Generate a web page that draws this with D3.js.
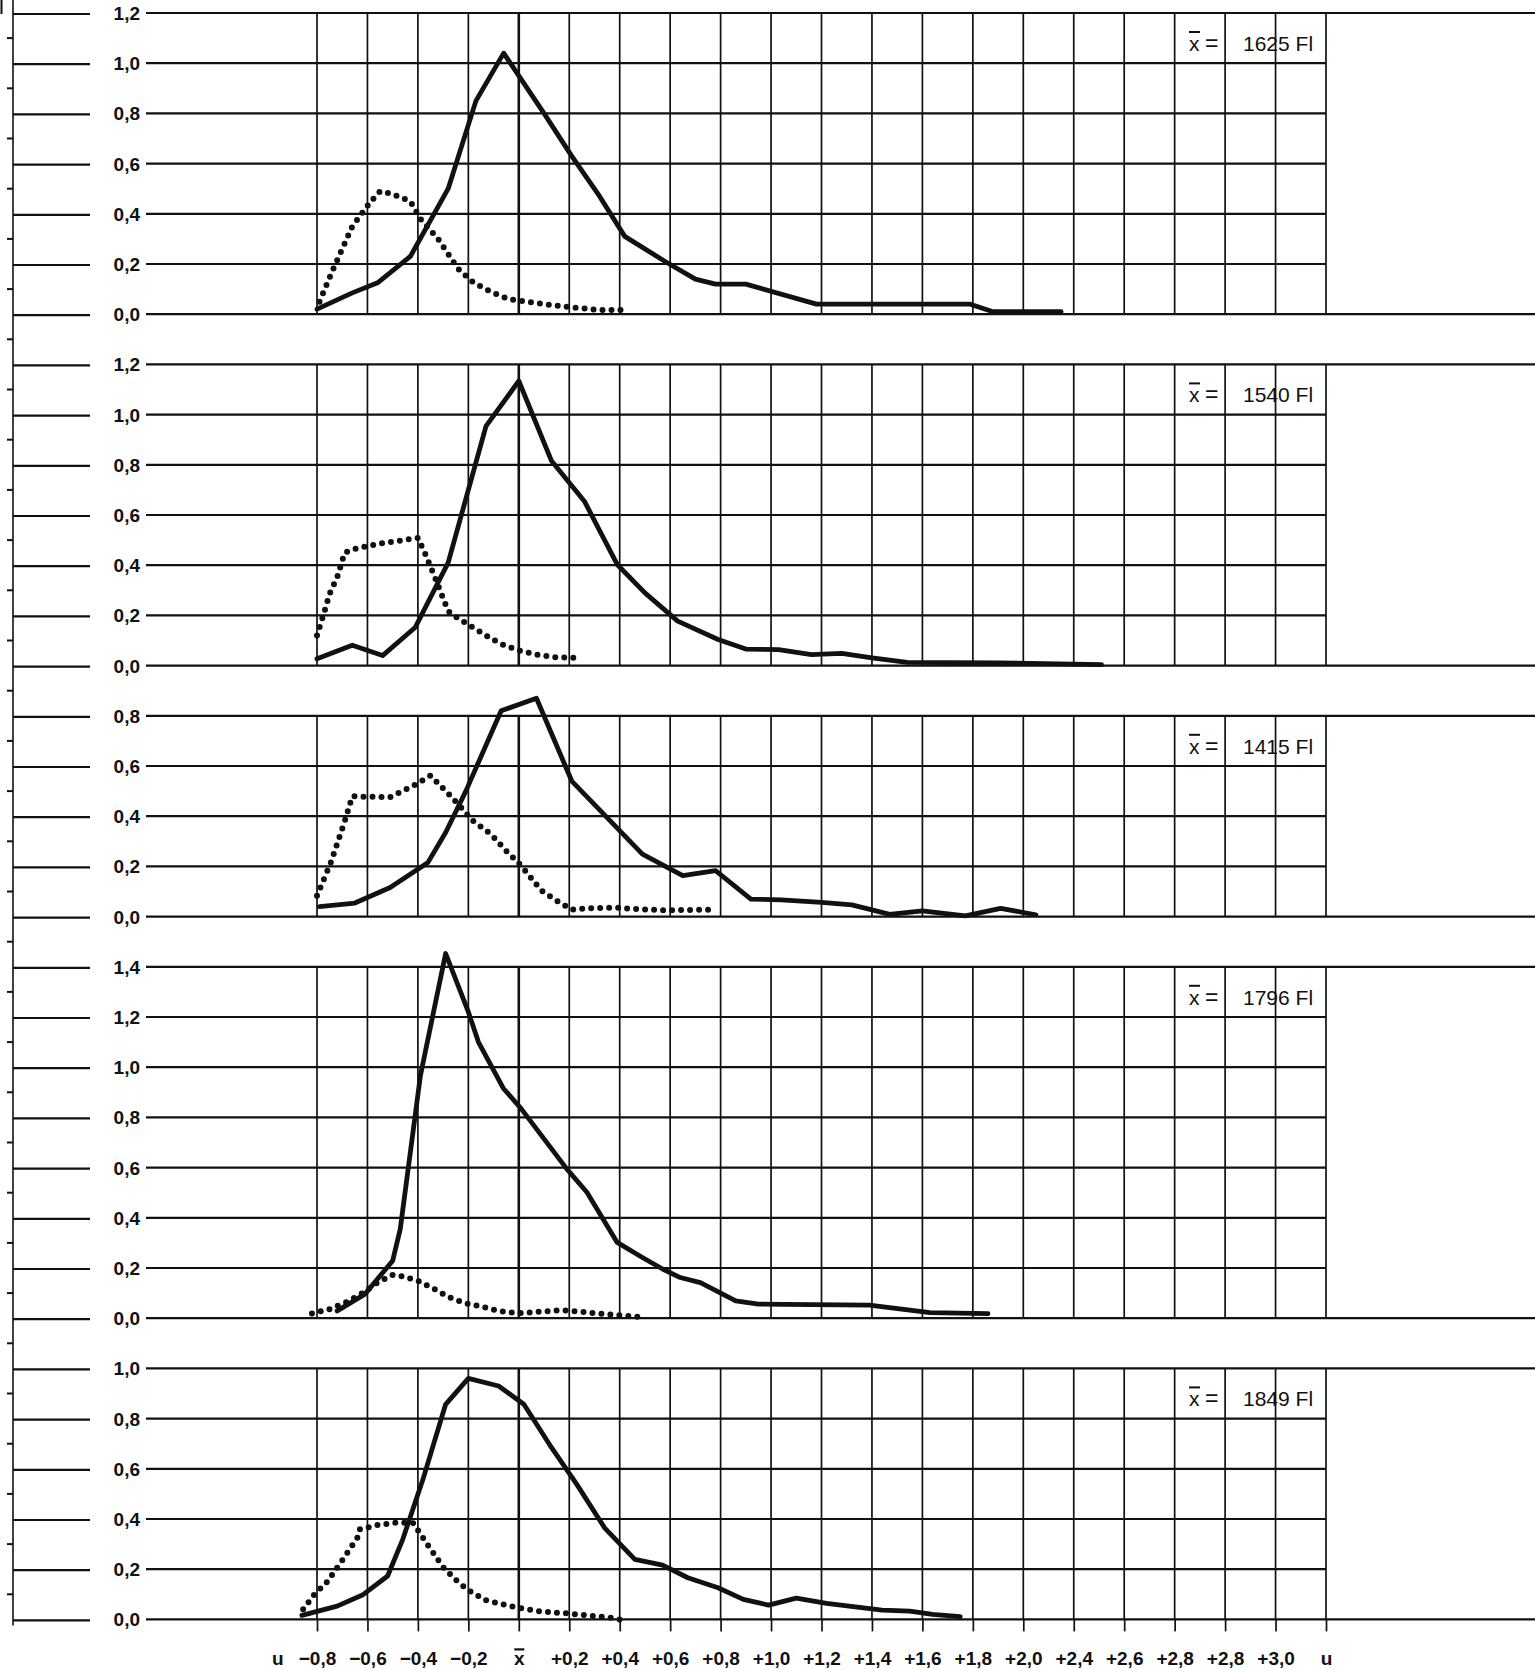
<!DOCTYPE html>
<html><head><meta charset="utf-8">
<script src="https://cdn.jsdelivr.net/npm/d3@7"></script>
<style>body{margin:0;background:#fff}svg{display:block}</style>
</head><body>
<svg id="c" width="1535" height="1670"></svg>
<script>
// ---------- DATA ----------
const panelMeans = ["1625", "1540", "1415", "1796", "1849"];
const meanUnit = "Fl";
const panelMax = [1.2, 1.2, 0.8, 1.4, 1.0];

const p1Solid = [[-0.80,0.02],[-0.66,0.085],[-0.56,0.125],[-0.43,0.23],[-0.28,0.50],[-0.17,0.85],[-0.06,1.04],[0.10,0.80],[0.21,0.63],[0.32,0.47],[0.42,0.31],[0.58,0.21],[0.70,0.14],[0.78,0.12],[0.90,0.12],[1.18,0.04],[1.79,0.04],[1.88,0.01],[2.15,0.01]];
const p1Dotted = [[-0.79,0.05],[-0.74,0.17],[-0.66,0.35],[-0.59,0.445],[-0.55,0.49],[-0.50,0.478],[-0.43,0.45],[-0.39,0.38],[-0.32,0.30],[-0.24,0.18],[-0.18,0.126],[-0.11,0.089],[-0.04,0.06],[0.07,0.044],[0.21,0.027],[0.32,0.017],[0.43,0.016]];

const p2Solid = [[-0.80,0.027],[-0.66,0.081],[-0.54,0.04],[-0.41,0.153],[-0.28,0.41],[-0.13,0.954],[0.00,1.134],[0.13,0.815],[0.26,0.655],[0.39,0.403],[0.50,0.29],[0.63,0.177],[0.79,0.104],[0.90,0.066],[1.03,0.064],[1.16,0.044],[1.28,0.049],[1.40,0.031],[1.54,0.013],[1.90,0.011],[2.31,0.004]];
const p2Dotted = [[-0.80,0.12],[-0.77,0.217],[-0.75,0.286],[-0.72,0.352],[-0.69,0.45],[-0.66,0.462],[-0.62,0.472],[-0.55,0.486],[-0.48,0.496],[-0.40,0.509],[-0.37,0.443],[-0.33,0.345],[-0.28,0.217],[-0.25,0.194],[-0.19,0.157],[-0.13,0.12],[-0.07,0.086],[0.00,0.06],[0.07,0.044],[0.14,0.033],[0.25,0.03]];

const p3Solid = [[-0.79,0.04],[-0.65,0.054],[-0.51,0.116],[-0.36,0.216],[-0.29,0.335],[-0.21,0.50],[-0.07,0.82],[0.07,0.87],[0.21,0.54],[0.49,0.249],[0.65,0.163],[0.78,0.183],[0.92,0.07],[1.04,0.067],[1.20,0.057],[1.32,0.047],[1.40,0.027],[1.47,0.009],[1.60,0.023],[1.77,0.003],[1.91,0.033],[2.05,0.007]];
const p3Dotted = [[-0.80,0.083],[-0.745,0.216],[-0.69,0.38],[-0.66,0.48],[-0.62,0.478],[-0.51,0.476],[-0.47,0.496],[-0.41,0.526],[-0.35,0.562],[-0.27,0.48],[-0.18,0.38],[-0.11,0.328],[-0.05,0.262],[0.01,0.202],[0.09,0.103],[0.16,0.057],[0.21,0.028],[0.27,0.033],[0.38,0.036],[0.46,0.03],[0.59,0.025],[0.77,0.028]];

const p4Solid = [[-0.72,0.029],[-0.61,0.096],[-0.50,0.229],[-0.47,0.355],[-0.39,0.967],[-0.29,1.453],[-0.20,1.22],[-0.16,1.10],[-0.06,0.914],[0.01,0.834],[0.19,0.595],[0.27,0.502],[0.39,0.302],[0.49,0.242],[0.57,0.196],[0.64,0.162],[0.72,0.142],[0.86,0.069],[0.95,0.056],[1.05,0.055],[1.39,0.052],[1.63,0.022],[1.86,0.018]];
const p4Dotted = [[-0.82,0.019],[-0.75,0.036],[-0.685,0.063],[-0.62,0.10],[-0.56,0.142],[-0.50,0.172],[-0.47,0.169],[-0.40,0.149],[-0.335,0.116],[-0.275,0.083],[-0.21,0.059],[-0.14,0.045],[-0.08,0.029],[0.00,0.02],[0.10,0.027],[0.17,0.032],[0.27,0.023],[0.38,0.013],[0.48,0.005]];

const p5Solid = [[-0.86,0.016],[-0.72,0.053],[-0.62,0.097],[-0.52,0.173],[-0.46,0.319],[-0.38,0.558],[-0.29,0.857],[-0.20,0.96],[-0.08,0.93],[0.02,0.857],[0.13,0.684],[0.23,0.538],[0.34,0.365],[0.46,0.239],[0.57,0.216],[0.67,0.166],[0.79,0.126],[0.89,0.08],[0.99,0.057],[1.10,0.085],[1.22,0.064],[1.44,0.037],[1.55,0.033],[1.64,0.02],[1.75,0.011]];
const p5Dotted = [[-0.855,0.04],[-0.81,0.10],[-0.76,0.149],[-0.70,0.235],[-0.64,0.325],[-0.63,0.359],[-0.56,0.376],[-0.49,0.385],[-0.42,0.385],[-0.36,0.295],[-0.30,0.208],[-0.245,0.153],[-0.20,0.116],[-0.13,0.076],[-0.05,0.057],[0.01,0.044],[0.09,0.031],[0.19,0.024],[0.26,0.017],[0.36,0.007],[0.43,-0.006]];

const solidSeries = [p1Solid, p2Solid, p3Solid, p4Solid, p5Solid];
const dottedSeries = [p1Dotted, p2Dotted, p3Dotted, p4Dotted, p5Dotted];

const xTickLabels = ["−0,8","−0,6","−0,4","−0,2","x̄","+0,2","+0,4","+0,6","+0,8","+1,0","+1,2","+1,4","+1,6","+1,8","+2,0","+2,4","+2,6","+2,8","+2,8","+3,0","u"];
const xAxisName = "u";

// ---------- LAYOUT ----------
const svg = d3.select("#c");
const ink = "#111";
const gridL = 317, gridR = 1326, lineStart = 146, pageR = 1535;
const top0 = 13, cell = 50.2;
const x = d3.scaleLinear().domain([-0.8, 3.2]).range([gridL, gridR]);
const xGrid = d3.range(21).map(i => +(-0.8 + 0.2 * i).toFixed(1));
const labelFont = "'Liberation Sans', Arial, Helvetica, sans-serif";
const fmt = v => v.toFixed(1).replace(".", ",");
const axFs = 19;

// left axis line and half ticks
let rowsTotal = 0;
const starts = [];
panelMax.forEach(m => { starts.push(rowsTotal); rowsTotal += Math.round(m / 0.2) + 1; });
rowsTotal -= 1;
svg.append("line").attr("x1", 13).attr("x2", 13).attr("y1", 0).attr("y2", top0 + rowsTotal * cell + 6)
  .attr("stroke", ink).attr("stroke-width", 1.6);
svg.append("line").attr("x1", 1.5).attr("x2", 1.5).attr("y1", 0).attr("y2", 14)
  .attr("stroke", ink).attr("stroke-width", 2);
for (let k = 0; k < rowsTotal; k++) {
  const yy = top0 + (k + 0.5) * cell;
  svg.append("line").attr("x1", 7).attr("x2", 13).attr("y1", yy).attr("y2", yy)
    .attr("stroke", ink).attr("stroke-width", 2);
}

const pathGen = d3.line().curve(d3.curveLinear);

panelMax.forEach((m, i) => {
  const nRows = Math.round(m / 0.2);
  const yTop = top0 + starts[i] * cell;
  const yBot = yTop + nRows * cell;
  const y = d3.scaleLinear().domain([0, m]).range([yBot, yTop]);
  const g = svg.append("g");
  const ticks = d3.range(nRows + 1).map(k => +(k * 0.2).toFixed(1));

  // vertical grid lines
  g.selectAll("line.v").data(xGrid).join("line")
    .attr("x1", d => x(d)).attr("x2", d => x(d))
    .attr("y1", yTop).attr("y2", yBot)
    .attr("stroke", ink).attr("stroke-width", d => d === 0 ? 2.6 : 1.7);

  // horizontal lines
  g.selectAll("line.h").data(ticks).join("line")
    .attr("x1", lineStart)
    .attr("x2", (d, k) => (k === 0 || k === nRows) ? pageR : gridR)
    .attr("y1", d => y(d)).attr("y2", d => y(d))
    .attr("stroke", ink).attr("stroke-width", 2.2);
  g.selectAll("line.s").data(ticks).join("line")
    .attr("x1", 13).attr("x2", 90)
    .attr("y1", d => y(d) + 1).attr("y2", d => y(d) + 1)
    .attr("stroke", ink).attr("stroke-width", 2.2);

  // y labels
  g.selectAll("text.yl").data(ticks).join("text")
    .attr("x", 140).attr("y", d => y(d) + 7)
    .attr("text-anchor", "end")
    .attr("font-family", labelFont).attr("font-weight", "bold").attr("font-size", axFs)
    .attr("fill", ink).text(fmt);

  // curves
  g.append("path").datum(dottedSeries[i])
    .attr("d", pathGen.x(d => x(d[0])).y(d => y(d[1])))
    .attr("fill", "none").attr("stroke", ink).attr("stroke-width", 6)
    .attr("stroke-linecap", "round").attr("stroke-linejoin", "round")
    .attr("stroke-dasharray", "0 9");
  g.append("path").datum(solidSeries[i])
    .attr("d", pathGen.x(d => x(d[0])).y(d => y(d[1])))
    .attr("fill", "none").attr("stroke", ink).attr("stroke-width", 4.8)
    .attr("stroke-linejoin", "round").attr("stroke-linecap", "round");

  // mean label
  const base = yTop + 38;
  g.append("text").attr("x", 1189).attr("y", base)
    .attr("font-family", labelFont).attr("font-size", 21).attr("fill", ink).text("x");
  g.append("line").attr("x1", 1189).attr("x2", 1200).attr("y1", base - 19).attr("y2", base - 19)
    .attr("stroke", ink).attr("stroke-width", 2);
  g.append("text").attr("x", 1205).attr("y", base)
    .attr("font-family", labelFont).attr("font-size", 23).attr("fill", ink).text("=");
  g.append("text").attr("x", 1243).attr("y", base)
    .attr("font-family", labelFont).attr("font-size", 21).attr("fill", ink)
    .text(panelMeans[i] + " " + meanUnit);

  if (i === panelMax.length - 1) {
    // bottom axis
    const ax = d3.axisBottom(x).tickValues(xGrid).tickSize(12).tickPadding(20)
      .tickFormat((d, k) => xTickLabels[k]);
    const ga = svg.append("g").attr("transform", `translate(0,${yBot})`).call(ax);
    ga.select(".domain").remove();
    ga.selectAll(".tick line").attr("stroke", ink).attr("stroke-width", 1.7);
    ga.selectAll(".tick text")
      .attr("font-family", labelFont).attr("font-weight", "bold").attr("font-size", axFs)
      .attr("fill", ink)
      .each(function (d, k) {
        if (xTickLabels[k] === "x̄") {
          d3.select(this).text("x");
          d3.select(this.parentNode).append("line")
            .attr("x1", -5).attr("x2", 5).attr("y1", 30).attr("y2", 30)
            .attr("stroke", ink).attr("stroke-width", 2.2);
        }
      });
    svg.append("text").attr("x", 272).attr("y", yBot + 45.5)
      .attr("font-family", labelFont).attr("font-weight", "bold").attr("font-size", axFs)
      .attr("fill", ink).text(xAxisName);
  }
});
</script>
</body></html>
